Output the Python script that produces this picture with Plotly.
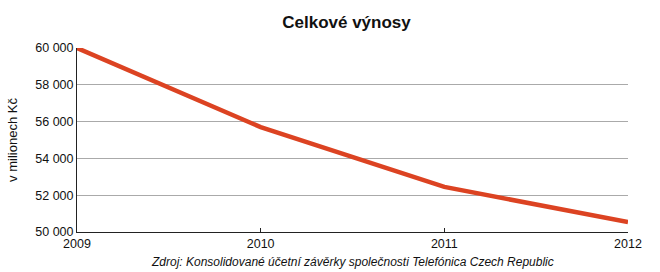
import plotly.graph_objects as go

years = [2009, 2010, 2011, 2012]
revenue = [60000, 55700, 52450, 50540]
y_ticks = [50000, 52000, 54000, 56000, 58000, 60000]
y_tick_labels = ["50 000", "52 000", "54 000", "56 000", "58 000", "60 000"]

fig = go.Figure()
fig.add_trace(go.Scatter(x=years, y=revenue, mode="lines",
                         line=dict(color="#dc4322", width=4.5)))

font = "Liberation Sans, Arial, sans-serif"
fig.update_layout(
    width=660, height=272,
    margin=dict(l=77, r=32, t=48, b=40),
    paper_bgcolor="white", plot_bgcolor="white",
    showlegend=False,
    font=dict(family=font, size=12.5, color="#111"),
    title=dict(text="<b>Celkové výnosy</b>", x=0.525, xanchor="center",
               y=0.92, yanchor="middle", font=dict(size=17, color="#111")),
    xaxis=dict(range=[2009, 2012], tickvals=years, ticktext=[str(y) for y in years],
               showgrid=False, zeroline=False, showline=True, linecolor="#222",
               linewidth=1, ticks="inside", ticklen=4, tickcolor="#222",
               tickfont=dict(size=12.5)),
    yaxis=dict(range=[50000, 60000], tickvals=y_ticks, ticktext=y_tick_labels,
               showgrid=True, gridcolor="#aaaaaa", gridwidth=1, zeroline=False,
               showline=True, linecolor="#222", linewidth=1, ticks="",
               tickfont=dict(size=12.5),
               title=dict(text="v milionech Kč", font=dict(size=13), standoff=14)),
)
fig.add_annotation(text="<i>Zdroj: Konsolidované účetní závěrky společnosti Telefónica Czech Republic</i>",
                   x=0.5, xref="paper", y=-0.163, yref="paper", showarrow=False,
                   xanchor="center", yanchor="middle", font=dict(size=12, color="#111"))
fig.write_html("out.html")
